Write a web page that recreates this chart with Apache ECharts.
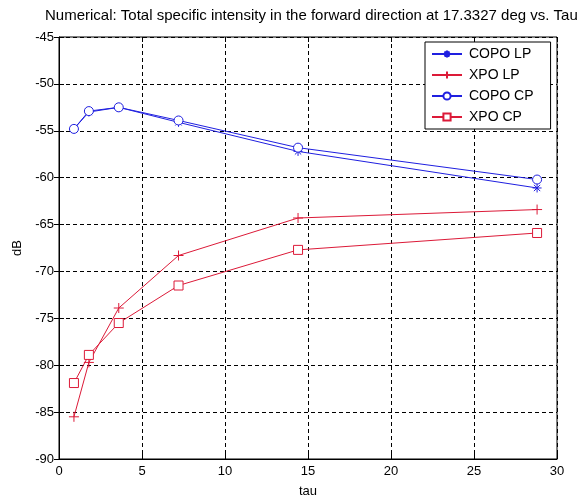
<!DOCTYPE html>
<html>
<head>
<meta charset="utf-8">
<script src="https://cdn.jsdelivr.net/npm/echarts@6/dist/echarts.min.js"></script>
<style>html,body{margin:0;padding:0;background:#fff}#c{width:582px;height:504px}</style>
</head>
<body>
<div id="c"></div>
<script>
const tau = [0.9, 1.8, 3.6, 7.2, 14.4, 28.8];
const copoLP = [-54.8, -53.0, -52.5, -54.1, -57.2, -61.1];
const xpoLP = [-85.5, -79.7, -73.9, -68.3, -64.3, -63.4];
const copoCP = [-54.8, -52.9, -52.5, -53.9, -56.8, -60.2];
const xpoCP = [-81.9, -78.9, -75.5, -71.5, -67.7, -65.9];
const xTicks = [0, 5, 10, 15, 20, 25, 30];
const yTicks = [-90, -85, -80, -75, -70, -65, -60, -55, -50, -45];

const BLUE = '#1f1fe0';
const RED = '#dc1a38';
const FONT = 'Liberation Sans, Arial, sans-serif';
const starPath = 'path://M5,0L5,10M0,5L10,5M1.5,1.5L8.5,8.5M1.5,8.5L8.5,1.5';
const plusPath = 'path://M5,0L5,10M0,5L10,5';

function pairs(xs, ys) { return xs.map((x, i) => [x, ys[i]]); }

function mkSeries(name, ys, color, symbol, size) {
  return {
    name: name, type: 'line', data: pairs(tau, ys),
    symbol: symbol, symbolSize: size, showAllSymbol: true,
    lineStyle: { color: color, width: 1 },
    itemStyle: { color: '#fff', borderColor: color, borderWidth: 1 },
    emphasis: { disabled: true },
    animation: false, z: 5
  };
}

const chart = echarts.init(document.getElementById('c'), null, { renderer: 'canvas' });
const axisCommon = {
  axisLine: { show: true, onZero: false, lineStyle: { color: '#000', width: 1 } },
  axisTick: { show: true, inside: true, length: 5, lineStyle: { color: '#000' } },
  splitLine: { show: true, lineStyle: { color: '#000', type: [4, 3], width: 1 } }
};
chart.setOption({
  animation: false,
  backgroundColor: '#fff',
  textStyle: { fontFamily: FONT },
  title: {
    text: 'Numerical: Total specific intensity in the forward direction at 17.3327 deg vs. Tau',
    left: 40, top: 3,
    textStyle: { fontFamily: FONT, fontSize: 15, fontWeight: 'normal', color: '#000' }
  },
  grid: { left: 59, right: 25, top: 37, bottom: 45, show: true, borderColor: '#000', borderWidth: 1, backgroundColor: '#fff' },
  legend: {
    orient: 'vertical', left: 425, top: 42,
    data: ['COPO LP', 'XPO LP', 'COPO CP', 'XPO CP'],
    itemWidth: 30, itemHeight: 9, itemGap: 7,
    padding: [5, 17, 5, 6],
    borderColor: '#000', borderWidth: 1, backgroundColor: '#fff',
    textStyle: { fontFamily: FONT, fontSize: 14, color: '#000', padding: [0, 0, 0, 2] },
    selectedMode: false
  },
  xAxis: [
    Object.assign({}, axisCommon, {
      type: 'value', min: 0, max: 30, interval: 5, name: 'tau',
      nameLocation: 'middle', nameGap: 26,
      nameTextStyle: { fontFamily: FONT, fontSize: 13, color: '#000' },
      axisLabel: { color: '#000', fontFamily: FONT, fontSize: 13, margin: 6,
        formatter: v => xTicks.includes(v) ? String(v) : '' }
    }),
    {
      type: 'value', min: 0, max: 30, interval: 5, position: 'top',
      axisLine: { show: false }, axisLabel: { show: false }, splitLine: { show: false },
      axisTick: { show: true, inside: true, length: 5, lineStyle: { color: '#000' } }
    }
  ],
  yAxis: [
    Object.assign({}, axisCommon, {
      type: 'value', min: -90, max: -45, interval: 5, name: 'dB',
      nameLocation: 'middle', nameGap: 32,
      nameTextStyle: { fontFamily: FONT, fontSize: 13, color: '#000' },
      axisLabel: { color: '#000', fontFamily: FONT, fontSize: 13, margin: 5,
        formatter: v => yTicks.includes(v) ? String(v) : '' }
    }),
    {
      type: 'value', min: -90, max: -45, interval: 5, position: 'right',
      axisLine: { show: false }, axisLabel: { show: false }, splitLine: { show: false },
      axisTick: { show: true, inside: true, length: 5, lineStyle: { color: '#000' } }
    }
  ],
  series: [
    mkSeries('COPO LP', copoLP, BLUE, starPath, 9),
    mkSeries('XPO LP', xpoLP, RED, plusPath, 10),
    mkSeries('COPO CP', copoCP, BLUE, 'circle', 9),
    mkSeries('XPO CP', xpoCP, RED, 'rect', 9)
  ]
});
</script>
</body>
</html>
